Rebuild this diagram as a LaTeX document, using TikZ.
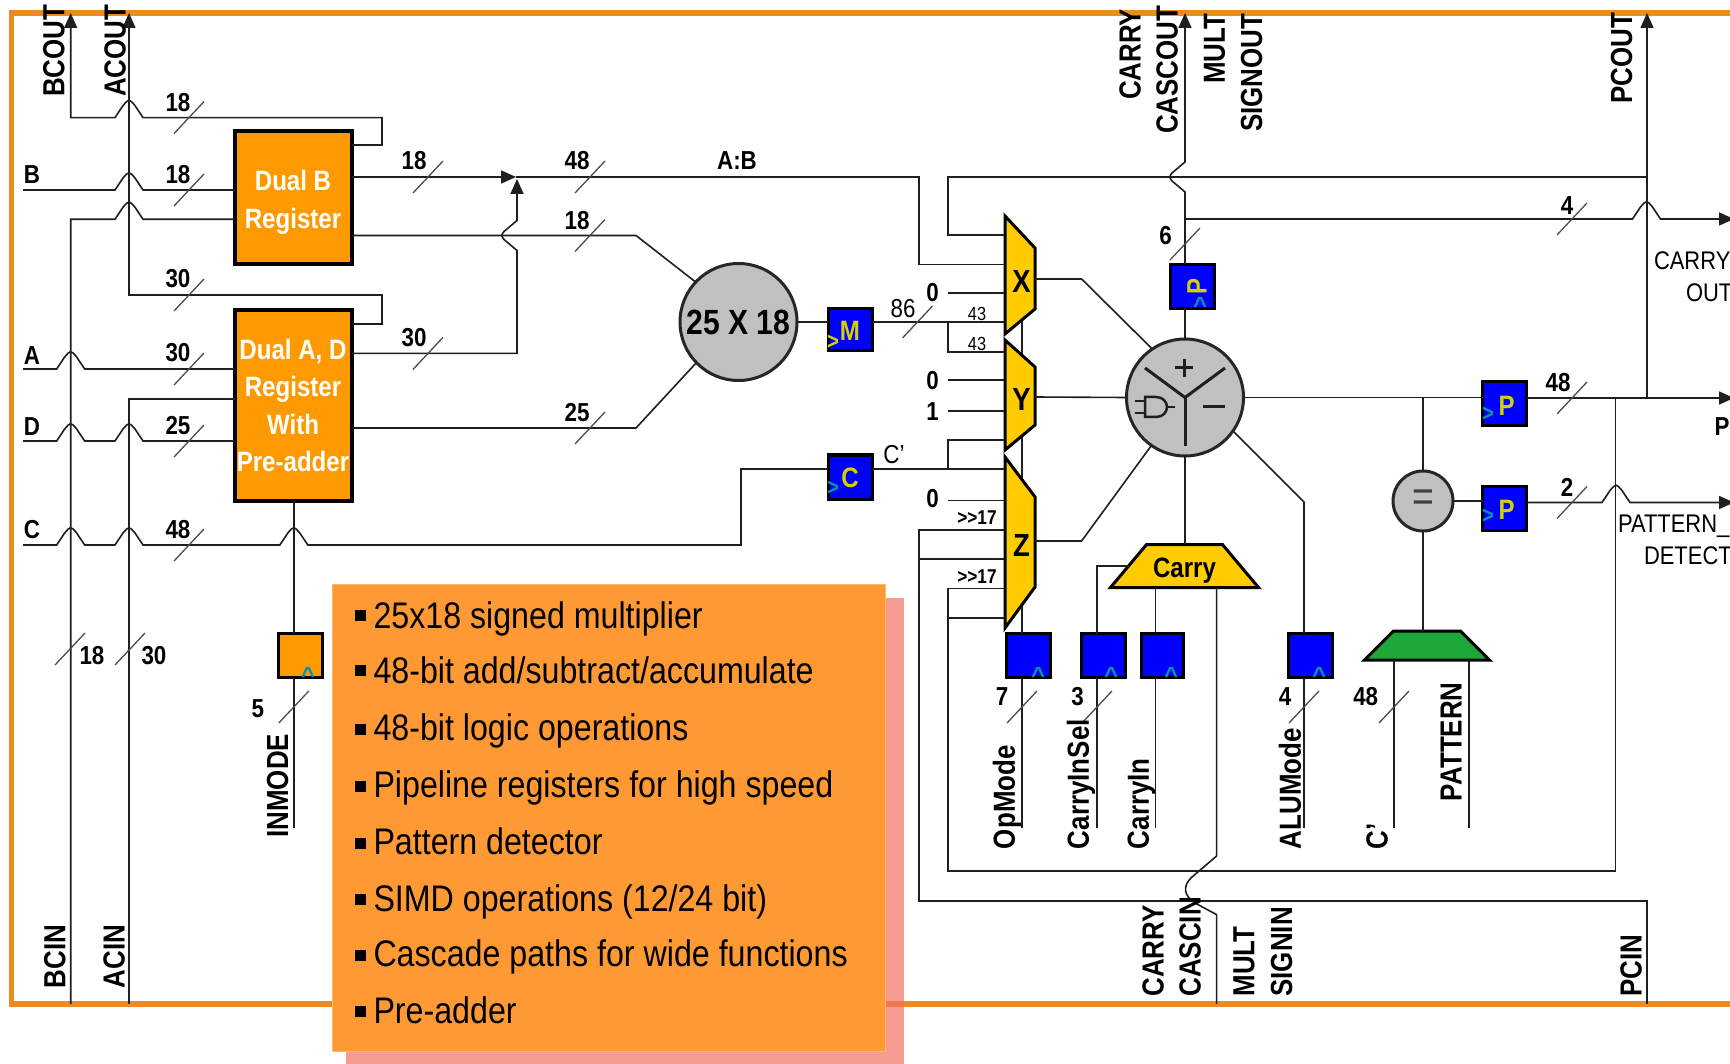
\documentclass[tikz,border=0pt]{standalone}
\usepackage{fontspec}
\usetikzlibrary{arrows.meta,shapes.geometric}
\newfontfamily\narrowfont[FakeStretch=0.86]{Liberation Sans}
\newfontfamily\listfont[FakeStretch=0.87]{Liberation Sans}
\newfontfamily\portfont[FakeStretch=0.85]{Liberation Sans}
\definecolor{rimorange}{HTML}{EE8A22}
\definecolor{regorange}{HTML}{FF9900}
\definecolor{regblue}{HTML}{0000FF}
\definecolor{muxyellow}{HTML}{FFCC00}
\definecolor{infoorange}{HTML}{FF9933}
\definecolor{infoshade}{HTML}{F17062}
\definecolor{adderfill}{HTML}{C0C0C0}
\definecolor{patgreen}{HTML}{1FA83A}
\definecolor{clkteal}{HTML}{0C8FA8}
\definecolor{regtext}{HTML}{D2D200}
\newcommand{\wirehop}[2]{-- ({#1-14},#2) -- ({#1-6},{#2-12}) .. controls (#1,{#2-19}) .. ({#1+6},{#2-12}) -- ({#1+14},#2)}
\newcommand{\wirewave}[2]{-- (#1,{#2-15}) -- ({#1-13},{#2-4}) .. controls ({#1-16},#2) .. ({#1-13},{#2+4}) -- (#1,{#2+15})}
\begin{document}
\begin{tikzpicture}[x=1pt,y=-1pt]
	\tikzstyle{every node}=[inner sep=0pt,outer sep=0pt]
	\tikzstyle{wire}=[draw=black!88,line width=1.6pt,line join=miter]
	\tikzstyle{wireout}=[wire,-{Triangle[length=15pt,width=13pt]}]
	\tikzstyle{wireback}=[wire,{Triangle[length=15pt,width=13pt]}-]
	\tikzstyle{busslash}=[draw=black!70,line width=1.3pt]
	\tikzstyle{rim}=[draw=rimorange,line width=5.5pt]
	\tikzstyle{bigreg}=[draw=black,fill=regorange,line width=4pt,minimum width=117pt,text=white,align=center,font=\narrowfont\bfseries\fontsize{28}{37.5}\selectfont]
	\tikzstyle{smallreg}=[draw=black,fill=regblue,line width=3pt,minimum width=44pt,minimum height=44pt]
	\tikzstyle{regname}=[text=regtext,font=\narrowfont\bfseries\fontsize{28}{30}\selectfont]
	\tikzstyle{clkmark}=[text=clkteal,font=\portfont\bfseries\fontsize{24}{26}\selectfont]
	\tikzstyle{muxbody}=[draw=black,fill=muxyellow,line width=3pt,line join=miter]
	\tikzstyle{muxname}=[text=black,font=\narrowfont\bfseries\fontsize{32}{34}\selectfont]
	\tikzstyle{blob}=[circle,draw=black!85,fill=adderfill,line width=3pt]
	\tikzstyle{buswidth}=[text=black,font=\narrowfont\bfseries\fontsize{26}{28}\selectfont]
	\tikzstyle{thinlabel}=[text=black,font=\narrowfont\fontsize{26}{28}\selectfont]
	\tikzstyle{sidelabel}=[anchor=west,text=black,font=\narrowfont\fontsize{25.5}{27}\selectfont]
	\tikzstyle{portlabel}=[rotate=90,anchor=west,text=black,font=\portfont\bfseries\fontsize{30.5}{32}\selectfont]
	\tikzstyle{infoline}=[anchor=base west,text=black,font=\listfont\fontsize{37}{40}\selectfont]
	\useasboundingbox (0,0) rectangle (1730,1064);
	\draw[rim] (1736,13) -- (11.4,13) -- (11.4,1004) -- (1736,1004);
	\foreach \name/\x/\y in {bcoutpt/70.7/13,acoutpt/129/13,cascpt/1185/13,pcoutpt/1647/13,
		bcinpt/70.7/1004,acinpt/129/1004,cascin/1216.6/1004,pcinpt/1647/1004,
		binpt/23/190,ainpt/23/369,dinpt/23/441,cinpt/23/545,
		carrypt/1734/219,poutpt/1734/398,detpt/1734/502.5,abjoin/516/177,adjoin/517/179,
		muxw/1005/0,inend/293.8/827.6,opend/1022/827.6,selend/1097/827.6,carend/1155.6/827.6,
		aluend/1304/827.6,cpend/1394/827.6,patend/1469/827.6,xout/1035/279,yout/1035/397,zout/1035/541}
		\coordinate (\name) at (\x,\y);
	\node[bigreg,minimum height=133pt] (dualb) at (293,197.5) {\rule{0pt}{30pt}Dual B\\Register};
	\node[bigreg,minimum height=191pt] (dualad) at (293,405.7) {Dual A, D\\Register\\With\\Pre-adder};
	\node[blob,minimum size=117pt] (mult) at (738.5,322) {\narrowfont\bfseries\fontsize{35}{36}\selectfont 25 X 18};
	\node[blob,minimum size=117pt] (alu) at (1185,397.5) {};
	\node[blob,minimum size=60pt] (eq) at (1423,501) {\color{black!75}\portfont\fontsize{44}{46}\selectfont =};
	\node[smallreg,minimum height=41.5pt] (mreg) at (850.25,329.75) {};
	\node[smallreg] (creg) at (850.25,477) {};
	\node[smallreg] (pcasc) at (1192.75,286.25) {};
	\node[smallreg] (preg) at (1504.5,403.75) {};
	\node[smallreg] (pdet) at (1504.5,508.5) {};
	\node[smallreg] (opreg) at (1028.75,655.5) {};
	\node[smallreg] (selreg) at (1103,655.5) {};
	\node[smallreg,minimum width=42.5pt] (cinreg) at (1162.5,655.5) {};
	\node[smallreg] (alureg) at (1310.3,655.5) {};
	\node[smallreg,fill=regorange] (inreg) at (300.3,655.5) {};
	\node[trapezium,trapezium stretches body=true,trapezium left angle=50,trapezium right angle=50,draw=black,fill=muxyellow,line width=3pt,minimum width=148pt,font=\narrowfont\bfseries\fontsize{28}{30}\selectfont] (carry) at (1184.5,566) {\raisebox{-11pt}[21.5pt][21.5pt]{Carry}};
	\node[trapezium,trapezium stretches body=true,trapezium left angle=45,trapezium right angle=45,draw=black,fill=patgreen,line width=3pt,minimum width=125pt] (patgen) at (1427,645.5) {\raisebox{0pt}[14.5pt][14.5pt]{\phantom{x}}};
	\draw[wireback] (bcoutpt) -- (70.7,117.6) \wirehop{129}{117.6} -- (382,117.6) -- (382,145) -- (dualb.east |- 0,145);
	\draw[wireback] (acoutpt) -- (129,295) -- (382,295) -- (382,324) -- (dualad.east |- 0,324);
	\draw[wire] (binpt) \wirehop{129}{190} -- (dualb.west |- binpt);
	\draw[wire] (bcinpt) -- (70.7,219.3) \wirehop{129}{219.3} -- (dualb.west |- 0,219.3);
	\draw[wire] (ainpt) \wirehop{70.7}{369} -- (dualad.west |- ainpt);
	\draw[wire] (acinpt) -- (129,399) -- (dualad.west |- 0,399);
	\draw[wire] (dinpt) \wirehop{70.7}{441} \wirehop{129}{441} -- (dualad.west |- dinpt);
	\draw[wire] (cinpt) \wirehop{70.7}{545} \wirehop{129}{545} \wirehop{293.8}{545} -- (741,545) -- (741,469) -- (creg.west |- 0,469);
	\draw[wire] (293.8,0 |- dualad.south) -- (293.8,0 |- inreg.north);
	\draw[wire] (293.8,0 |- inreg.south) -- (inend);
	\draw[wireout] (dualb.east |- abjoin) -- (abjoin);
	\draw[wire] (abjoin) -- (919,177) -- (919,264.4) -- (muxw |- 0,264.4);
	\draw[wireback] (adjoin) \wirewave{517}{235.5} -- (517,353.4) -- (dualad.east |- 0,353.4);
	\draw[wire] (dualb.east |- 0,235.5) -- (636,235.5) -- (mult.137);
	\draw[wire] (dualad.east |- 0,428) -- (636,428) -- (mult.224);
	\draw[wire] (mult.east) -- (mreg.west |- mult.east);
	\draw[wire] (mreg.east |- mult.east) -- (muxw |- mult.east);
	\draw[wire] (948,322) -- (948,352) -- (muxw |- 0,352);
	\draw[wire] (creg.east |- 0,469) -- (muxw |- 0,469);
	\draw[wire] (948,469) -- (948,440) -- (muxw |- 0,440);
	\foreach \y in {293,380,411,500.6}
		\draw[wire] (948,\y) -- (muxw |- 0,\y);
	\draw[wire] (pcinpt) -- (1647,901) -- (919,901) -- (919,530) -- (muxw |- 0,530);
	\draw[wire] (919,559) -- (muxw |- 0,559);
	\draw[wire] (1615.5,398) -- (1615.5,871) -- (948,871) -- (948,588.5) -- (muxw |- 0,588.5);
	\draw[wire] (948,617.7) -- (muxw |- 0,617.7);
	\draw[wire] (muxw |- 0,235) -- (948,235) -- (948,177) -- (1647,177);
	\draw[wire] (1022,0 |- opreg.north) -- (1022,320);
	\draw[muxbody] (1005,216) -- (1035,248) -- (1035,309) -- (1005,334) -- cycle;
	\draw[muxbody] (1005,340) -- (1035,367) -- (1035,425) -- (1005,450) -- cycle;
	\draw[muxbody] (1005,457) -- (1035,497) -- (1035,587) -- (1005,628) -- cycle;
	\draw[wire] (xout) -- (1081.6,279) -- (alu.124);
	\draw[wire] (yout) -- (alu.west);
	\draw[wire] (zout) -- (1081.6,541) -- (alu.235);
	\draw[wire] (alu.-35) -- (1304,502) -- (1304,0 |- alureg.north);
	\draw[wire] (alu.south) -- (alu.south |- carry.north);
	\draw[wire] (alu.north) -- (alu.north |- pcasc.south);
	\draw[wireback] (cascpt) \wirewave{1185}{177} -- (alu.north |- pcasc.north);
	\draw[wireout] (1185,219) \wirehop{1646.5}{219} -- (carrypt);
	\draw[wire] (alu.east) -- (preg.west |- alu.east);
	\draw[wireout] (preg.east |- poutpt) -- (poutpt);
	\draw[wireback] (pcoutpt) -- (1647,398);
	\draw[wire] (eq.north |- alu.east) -- (eq.north);
	\draw[wire] (eq.south) -- (eq.south |- patgen.north);
	\draw[wire] (eq.east) -- (pdet.west |- eq.east);
	\draw[wireout] (pdet.east |- detpt) \wirehop{1616}{502.5} -- (detpt);
	\draw[wire] (carry.west) -- (1097,0 |- carry.west) -- (1097,0 |- selreg.north);
	\draw[wire] (1155.6,0 |- carry.south) -- (1155.6,0 |- cinreg.north);
	\draw[wire] (1216.6,0 |- carry.south) -- (1216.6,856) -- (1192,877) .. controls (1182,886) and (1184,896) .. (1195,903) -- (1216.6,914.6) -- (cascin);
	\draw[wire] (1022,0 |- opreg.south) -- (opend);
	\draw[wire] (1097,0 |- selreg.south) -- (selend);
	\draw[wire] (1155.6,0 |- cinreg.south) -- (carend);
	\draw[wire] (1304,0 |- alureg.south) -- (aluend);
	\draw[wire] (1394,0 |- patgen.south) -- (cpend);
	\draw[wire] (1469,0 |- patgen.south) -- (patend);
	\foreach \x/\y in {189/117.6,189/190,189/295,189/369,189/441,189/545,428/177,428/353.4,590/177,590/235.5,590/428,
		917.5/322,1185/244,1572/219,1572/398,1572/502.5,1022/707,1097/707,1304/707,1394/707,293.8/707,70/649,130/649}
		\draw[busslash] ({\x-15},{\y+16}) -- ({\x+15},{\y-16});
	\foreach \x/\y/\txt [count=\i] in {178/103/18,178/175/18,178/279/30,178/353/30,178/426/25,178/530/48,
		414/161/18,414/338/30,577/161/48,577/221/18,577/413/25,1165.5/236/6,1567/206/4,1558/383/48,1567/487.5/2,
		1002/697/7,1077.5/697/3,1285/697/4,1365.7/697/48,257.8/709/5,92/656/18,154/656/30,
		932.6/293/0,932.6/381/0,932.6/412/1,932.6/499/0,32/175/B,32/356/A,32/427/D,32/530/C,737/161/A:B}
		\node[buswidth] (bw\i) at (\x,\y) {\txt};
	\node[thinlabel] (busm) at (903,308.5) {86};
	\node[thinlabel,font=\narrowfont\fontsize{19}{21}\selectfont] (busx) at (977,314) {43};
	\node[thinlabel,font=\narrowfont\fontsize{19}{21}\selectfont] (busy) at (977,344) {43};
	\node[thinlabel] (cprime) at (894,455) {C’};
	\node[thinlabel,font=\narrowfont\bfseries\fontsize{20}{22}\selectfont] (shz) at (977,518) {>>17};
	\node[thinlabel,font=\narrowfont\bfseries\fontsize{20}{22}\selectfont] (shc) at (977,577) {>>17};
	\node[muxname] (xname) at (1021.5,281) {X};
	\node[muxname] (yname) at (1021.5,399) {Y};
	\node[muxname] (zname) at (1021.5,545) {Z};
	\node[regname] (mname) at (850,331) {M};
	\node[regname] (cname) at (850,478) {C};
	\node[regname,rotate=90] (pcascname) at (1197,286) {P};
	\node[regname] (pname) at (1506.6,406) {P};
	\node[regname] (dname) at (1506.6,510) {P};
	\node[clkmark,text=regtext] (mclk) at (833,342) {>};
	\node[clkmark] (cclk) at (833,488) {>};
	\node[clkmark] (pclk) at (1488,414) {>};
	\node[clkmark] (dclk) at (1488,516) {>};
	\foreach \x/\y [count=\i] in {1201/303,1039/673,1112/673,1172/673,1320/673,308.7/673}
		\node[clkmark,rotate=90] (upclk\i) at (\x,\y) {>};
	\draw[wire,line width=3pt] (1145,368) -- (alu.center) -- (1225,368);
	\draw[wire,line width=3pt] (alu.center) -- (1185,446);
	\draw[wire,line width=3pt] (1175,368) -- (1193,368);
	\draw[wire,line width=3pt] (1184,359) -- (1184,377);
	\draw[wire,line width=3pt] (1203,407) -- (1225,407);
	\draw[wire,line width=2.5pt] (1135,401) -- (1145,401);
	\draw[wire,line width=2.5pt] (1135,413) -- (1145,413);
	\draw[wire,line width=2.5pt] (1167,407) -- (1175,407);
	\draw[wire,line width=2.5pt] (1145,397) -- (1156,397) .. controls (1163,397) and (1167,402) .. (1167,407) .. controls (1167,412) and (1163,417) .. (1156,417) -- (1145,417) -- cycle;
	\foreach \x/\y/\txt [count=\i] in {54/97/BCOUT,115/97/ACOUT,1130/100/CARRY,1167/134/CASCOUT,1214.5/84/MULT,1251.5/132/SIGNOUT,1621.5/103.5/PCOUT,
		55/988/BCIN,114/988/ACIN,277.6/837.6/INMODE,1007/849/OpMode,1081/849/CarryInSel,1141.5/849/CarryIn,1290/849/ALUMode,1377/849/C’,1451/801/PATTERN,
		1153/996.5/CARRY,1190/996.5/CASCIN,1244/996.5/MULT,1281.6/996.5/SIGNIN,1631/996.5/PCIN}
		\node[portlabel] (port\i) at (\x,\y) {\txt};
	\node[sidelabel] (carrytop) at (1654,261) {CARRY};
	\node[sidelabel] (carrybot) at (1686,293) {OUT};
	\node[buswidth,anchor=west] (pport) at (1714.7,427) {P};
	\node[sidelabel] (pattop) at (1618,526) {PATTERN\_};
	\node[sidelabel] (patbot) at (1644,556) {DETECT};
	\node[fill=infoshade,fill opacity=0.7,minimum width=557.5pt,minimum height=482.5pt] (infoshadow) at (624.75,838.75) {};
	\node[fill=infoorange,draw=infoorange!70!white,line width=1pt,minimum width=553pt,minimum height=467pt] (info) at (609.4,818) {};
	\foreach \y/\base/\txt [count=\i] in {615/628.6/{25x18 signed multiplier},670/683.8/{48-bit add/subtract/accumulate},729/740.7/{48-bit logic operations},786/797.5/{Pipeline registers for high speed},
		843/854/{Pattern detector},899.5/911/{SIMD operations (12/24 bit)},955/966.4/{Cascade paths for wide functions},1011.5/1023/{Pre-adder}}{
		\node[fill=black,minimum width=11pt,minimum height=11pt] (tick\i) at (360,\y) {};
		\node[infoline] (item\i) at (373.5,\base) {\txt};
	}
\end{tikzpicture}
\end{document}
